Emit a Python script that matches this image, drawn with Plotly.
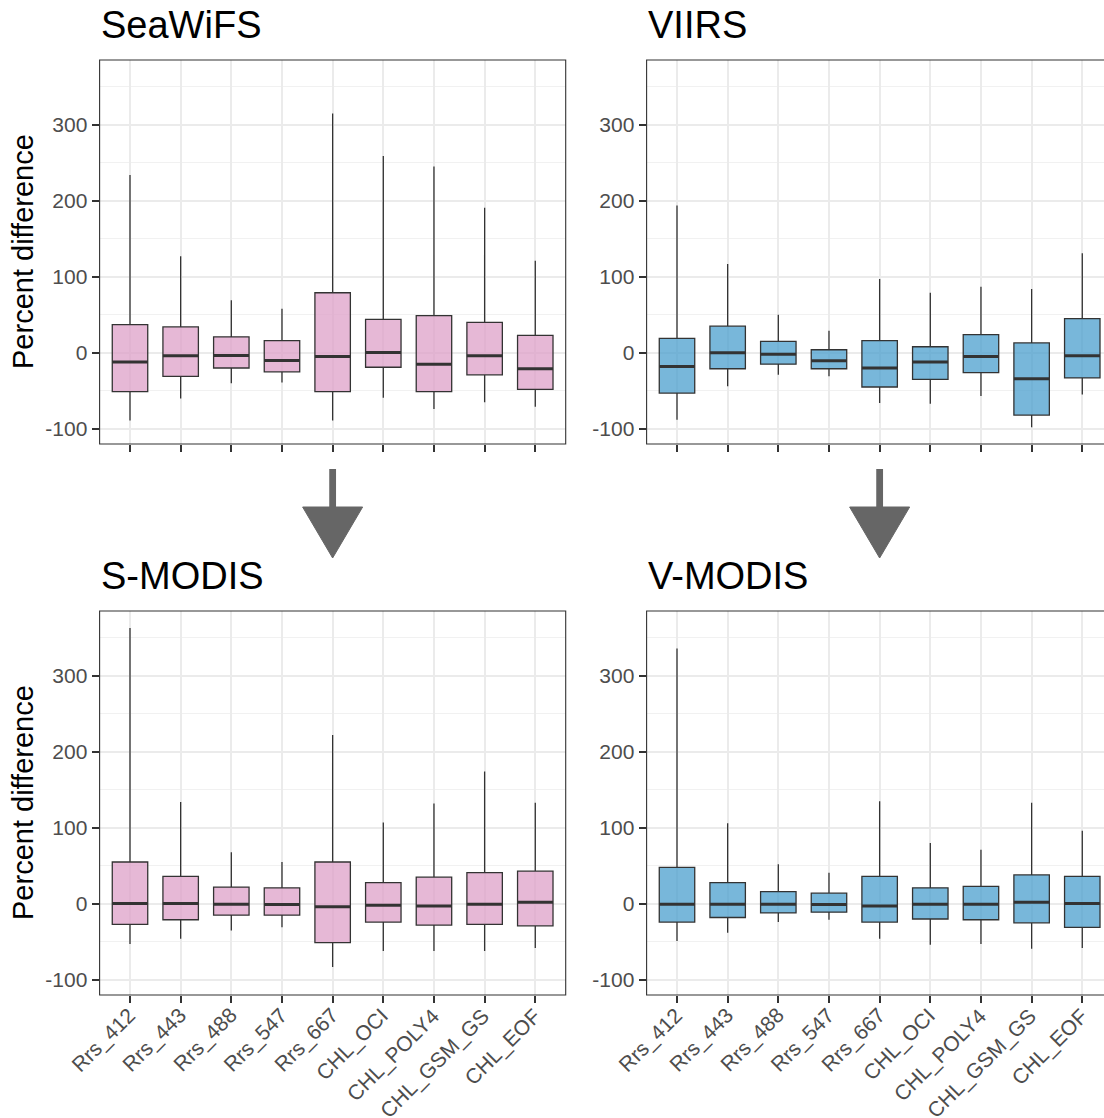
import plotly.graph_objects as go

W, H = 1104, 1118

categories = ["Rrs_412", "Rrs_443", "Rrs_488", "Rrs_547", "Rrs_667",
              "CHL_OCI", "CHL_POLY4", "CHL_GSM_GS", "CHL_EOF"]

seawifs_lower = [-89, -60, -40, -39, -89, -59, -74, -65, -71]
seawifs_q1 = [-51, -31, -20, -25, -51, -19, -51, -29, -48]
seawifs_med = [-12, -4, -3.5, -10, -5, 0.5, -15, -4, -21]
seawifs_q3 = [37, 34, 21, 16, 79, 44, 49, 40, 23]
seawifs_upper = [234, 127, 69, 58, 315, 259, 245, 191, 121]

viirs_lower = [-88, -44, -29, -31, -66, -67, -57, -98, -55]
viirs_q1 = [-53, -21, -15, -21, -45, -35, -26, -82, -33]
viirs_med = [-18, 0, -2, -10.5, -20, -12, -5, -34, -4]
viirs_q3 = [19, 35, 15, 4, 16, 8, 24, 13, 45]
viirs_upper = [194, 117, 50, 29, 97, 79, 87, 84, 131]

smodis_lower = [-53, -46, -35, -31, -83, -62, -62, -62, -58]
smodis_q1 = [-27, -21, -15, -15, -51, -24, -28, -27, -29]
smodis_med = [0.5, 0.5, -0.5, -1, -4, -2, -3, -0.5, 2]
smodis_q3 = [55, 36, 22, 21, 55, 28, 35, 41, 43]
smodis_upper = [363, 134, 68, 55, 222, 107, 132, 174, 133]

vmodis_lower = [-49, -38, -24, -21, -46, -54, -53, -59, -58]
vmodis_q1 = [-24, -18, -12, -11, -24, -20, -21, -25, -31]
vmodis_med = [-0.5, -0.5, -0.5, -1, -3, -0.5, -0.5, 2, 0.5]
vmodis_q3 = [48, 28, 16, 14, 36, 21, 23, 38, 36]
vmodis_upper = [336, 106, 52, 41, 135, 80, 71, 133, 96]

panel_titles = ["SeaWiFS", "VIIRS", "S-MODIS", "V-MODIS"]
y_ticks = [-100, 0, 100, 200, 300]

PINK = "rgba(222,160,200,0.75)"
BLUE = "rgba(75,159,206,0.75)"
DARK = "#333333"
FONT = "Liberation Sans, Arial, sans-serif"

# layout geometry in pixels
LEFT_X = (99.6, 565.7)
RIGHT_X = (646.6, 1104.0)
TOP_Y = (60, 444)
BOT_Y = (611, 995)
UNIT = 50.66  # px per category

def px(x):
    return x / W

def py(y):
    return 1 - y / H

panels = [
    (seawifs_lower, seawifs_q1, seawifs_med, seawifs_q3, seawifs_upper, PINK, LEFT_X, TOP_Y),
    (viirs_lower, viirs_q1, viirs_med, viirs_q3, viirs_upper, BLUE, RIGHT_X, TOP_Y),
    (smodis_lower, smodis_q1, smodis_med, smodis_q3, smodis_upper, PINK, LEFT_X, BOT_Y),
    (vmodis_lower, vmodis_q1, vmodis_med, vmodis_q3, vmodis_upper, BLUE, RIGHT_X, BOT_Y),
]

fig = go.Figure()
layout = dict(
    width=W, height=H, template="none",
    margin=dict(l=0, r=0, t=0, b=0),
    paper_bgcolor="white", plot_bgcolor="white",
    showlegend=False, font=dict(family=FONT),
)
shapes = []
annotations = []
xpos = list(range(len(categories)))
BOXW = 0.7

for i, (lo, q1, med, q3, up, col, xd, yd) in enumerate(panels):
    n = "" if i == 0 else str(i + 1)
    xa, ya = "x" + n, "y" + n
    fig.add_trace(go.Box(
        x=xpos, q1=q1, median=med, q3=q3, lowerfence=lo, upperfence=up,
        width=BOXW, fillcolor=col, whiskerwidth=0,
        line=dict(color=DARK, width=1.3), boxpoints=False,
        xaxis=xa, yaxis=ya, hoverinfo="skip",
    ))
    mx, my = [], []
    for k, m in enumerate(med):
        mx += [xpos[k] - BOXW / 2, xpos[k] + BOXW / 2, None]
        my += [m, m, None]
    fig.add_trace(go.Scatter(x=mx, y=my, mode="lines",
                             line=dict(color=DARK, width=3),
                             xaxis=xa, yaxis=ya, hoverinfo="skip"))
    is_right = xd is RIGHT_X
    x0 = -0.6
    x1 = x0 + (xd[1] - xd[0]) / UNIT
    bottom = yd is BOT_Y
    layout["xaxis" + n] = dict(
        domain=[px(xd[0]), px(xd[1])], range=[x0, x1], anchor=ya,
        tickmode="array", tickvals=xpos, ticktext=categories,
        showticklabels=False,
        ticks="outside", ticklen=7, tickwidth=1.5, tickcolor=DARK,
        showgrid=True, gridcolor="#EBEBEB", gridwidth=1.6,
        zeroline=False, showline=False, fixedrange=True,
    )
    layout["yaxis" + n] = dict(
        domain=[py(yd[1]), py(yd[0])], range=[-120, 385.3], anchor=xa,
        tickmode="array", tickvals=y_ticks, ticktext=[str(v) for v in y_ticks],
        tickfont=dict(size=21, color="#4D4D4D", family=FONT),
        ticks="outside", ticklen=7, tickwidth=1.5, tickcolor=DARK,
        showgrid=True, gridcolor="#EBEBEB", gridwidth=1.6,
        minor=dict(tickmode="array", tickvals=[-50, 50, 150, 250, 350],
                   showgrid=True, gridcolor="#F1F1F1", gridwidth=0.9, ticks=""),
        zeroline=False, showline=False, fixedrange=True,
    )
    # rotated category labels under the bottom panels (ggplot-like hjust=1, vjust=1)
    if bottom:
        for k, lab in enumerate(categories):
            annotations.append(dict(
                text=lab, xref=xa, yref="paper", x=xpos[k], y=py(yd[1]),
                xanchor="right", yanchor="top", xshift=13, yshift=-6,
                textangle=-45, showarrow=False,
                font=dict(size=21, color="#4D4D4D", family=FONT)))
    # dashed zero line below boxes
    shapes.append(dict(type="line", xref=xa + " domain", yref=ya,
                       x0=0, x1=1, y0=0, y1=0, layer="below",
                       line=dict(color="rgba(80,80,80,0.85)", width=1.5, dash="9px,8px")))
    # panel border
    right_edge = xd[1] + (8 if is_right else 0)
    shapes.append(dict(type="rect", xref="paper", yref="paper",
                       x0=px(xd[0]), x1=px(right_edge), y0=py(yd[1]), y1=py(yd[0]),
                       line=dict(color=DARK, width=1.1), fillcolor="rgba(0,0,0,0)",
                       layer="above"))
    # panel title
    annotations.append(dict(text=panel_titles[i], xref="paper", yref="paper",
                            x=px(xd[0] - 1), y=py(yd[0] - 35), xanchor="left", yanchor="middle",
                            showarrow=False, font=dict(size=38, color="black", family=FONT)))
    if not is_right:
        annotations.append(dict(text="Percent difference", xref="paper", yref="paper",
                                x=px(23), y=py((yd[0] + yd[1]) / 2), xanchor="center",
                                yanchor="middle", textangle=-90, showarrow=False,
                                font=dict(size=29, color="black", family=FONT)))

# down arrows between rows (at the Rrs_667 column)
ARROW = "#666666"
for xd in (LEFT_X, RIGHT_X):
    cx = xd[0] + (4 + 0.6) * UNIT
    shapes.append(dict(type="rect", xref="paper", yref="paper",
                       x0=px(cx - 3.4), x1=px(cx + 3.4), y0=py(510), y1=py(469),
                       line=dict(width=0), fillcolor=ARROW))
    path = "M {:.5f},{:.5f} L {:.5f},{:.5f} L {:.5f},{:.5f} Z".format(
        px(cx - 30), py(507), px(cx + 30), py(507), px(cx), py(558))
    shapes.append(dict(type="path", xref="paper", yref="paper", path=path,
                       line=dict(width=1, color=ARROW), fillcolor=ARROW))

layout["shapes"] = shapes
layout["annotations"] = annotations
fig.update_layout(**layout)
fig.write_html("out.html")
